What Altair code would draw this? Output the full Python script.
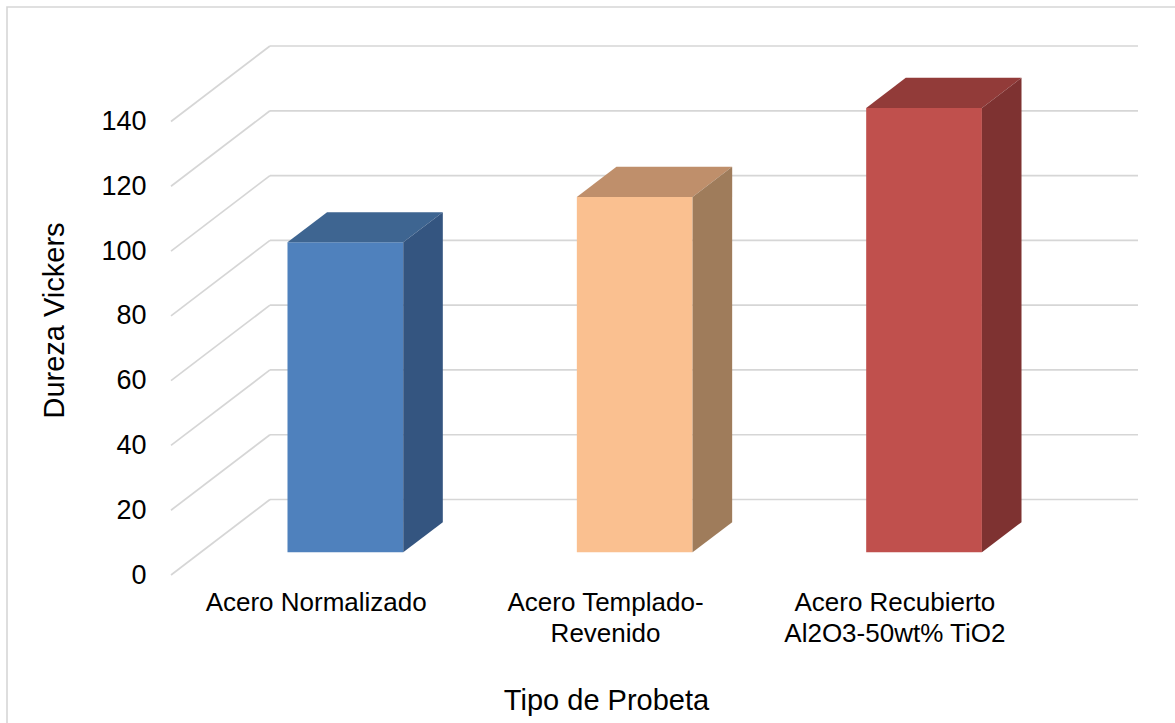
import altair as alt
import pandas as pd

# Vickers hardness per specimen type
categories = [
    "Acero Normalizado",
    "Acero Templado-\nRevenido",
    "Acero Recubierto\nAl2O3-50wt% TiO2",
]
hardness = [95.7, 109.7, 137.2]
y_ticks = [0, 20, 40, 60, 80, 100, 120, 140]

# face shades: front, top (darker), right side (darkest)
front_colors = ["#4f81bd", "#fac090", "#c0504d"]
top_colors = ["#3e6591", "#bf8f6b", "#923b39"]
side_colors = ["#345580", "#9f7c5b", "#7e3231"]

FONT = "Liberation Sans"
GRID = "#d6d6d6"

# oblique projection: how far the back wall is shifted, in axis units
DEPTH_X = 0.342          # along the category axis
DEPTH_Y = 23.3           # along the hardness axis
BAR_W = 0.4              # bar width as a fraction of a category slot
Z0, Z1 = 0.3, 0.7        # bar depth span (0 = front, 1 = back wall)
N = len(categories)
X_MAX = N + DEPTH_X
Y_MAX = y_ticks[-1] + DEPTH_Y

# gridlines: back wall + receding lines on the side wall
grid_rows = []
for v in y_ticks:
    grid_rows.append(dict(x=DEPTH_X, x2=N + DEPTH_X, y=v + DEPTH_Y, y2=v + DEPTH_Y))
    grid_rows.append(dict(x=0.0, x2=DEPTH_X, y=v, y2=v + DEPTH_Y))
grid = pd.DataFrame(grid_rows)

# bar faces
dx = (Z1 - Z0) * DEPTH_X
dy = (Z1 - Z0) * DEPTH_Y
front_rows, top_rows, side_rows = [], [], []
for i, (name, v) in enumerate(zip(categories, hardness)):
    x0 = i + (1 - BAR_W) / 2 + Z0 * DEPTH_X
    x1 = x0 + BAR_W
    b = Z0 * DEPTH_Y
    t = v + Z0 * DEPTH_Y
    front_rows.append(dict(bar=name, x=x0, x2=x1, y=b, y2=t, fill=front_colors[i]))
    for xx, lo, hi in [(x0, t, t), (x0 + dx, t, t + dy), (x1, t, t + dy), (x1 + dx, t + dy, t + dy)]:
        top_rows.append(dict(bar=name, x=xx, y=lo, y2=hi, fill=top_colors[i]))
    for xx, lo, hi in [(x1, b, t), (x1 + dx, b + dy, t + dy)]:
        side_rows.append(dict(bar=name, x=xx, y=lo, y2=hi, fill=side_colors[i]))
front = pd.DataFrame(front_rows)
top = pd.DataFrame(top_rows)
side = pd.DataFrame(side_rows)

xscale = alt.Scale(domain=[0, X_MAX], nice=False, zero=False)
yscale = alt.Scale(domain=[0, Y_MAX], nice=False, zero=False)

labels_js = "[" + ",".join("'" + c.replace("\n", "|") + "'" for c in categories) + "]"

x_axis = alt.Axis(
    values=[i + 0.5 for i in range(N)],
    labelExpr=f"split({labels_js}[floor(datum.value)], '|')",
    domain=False, ticks=False, grid=False,
    labelFont=FONT, labelFontSize=26, labelColor="#000000", labelLimit=0,
    labelPadding=14, labelLineHeight=31, labelBaseline="top",
    title="Tipo de Probeta", titleFont=FONT, titleFontSize=29,
    titleFontWeight="normal", titleColor="#000000",
    titleX=435, titleY=134, titleBaseline="alphabetic", titleAnchor="middle",
    titleAlign="center",
)
y_axis = alt.Axis(
    values=y_ticks, format="d",
    domain=False, ticks=False, grid=False,
    labelFont=FONT, labelFontSize=27, labelColor="#000000", labelPadding=25,
    title="Dureza Vickers", titleFont=FONT, titleFontSize=29,
    titleFontWeight="normal", titleColor="#000000",
    titleAngle=270, titleX=-117, titleY=274, titleBaseline="middle", titleAlign="center",
)


def X(field):
    return alt.X(field, scale=xscale, axis=x_axis)


def Y(field):
    return alt.Y(field, scale=yscale, axis=y_axis)


grid_layer = alt.Chart(grid).mark_rule(color=GRID, strokeWidth=1.7).encode(
    x=X("x:Q"), x2="x2:Q", y=Y("y:Q"), y2="y2:Q",
)

front_layer = alt.Chart(front).mark_rect().encode(
    x=X("x:Q"), x2="x2:Q", y=Y("y:Q"), y2="y2:Q",
    color=alt.Color("fill:N", scale=None),
)

top_layer = alt.Chart(top).mark_area(interpolate="linear").encode(
    x=X("x:Q"), y=Y("y:Q"), y2="y2:Q",
    detail="bar:N",
    color=alt.Color("fill:N", scale=None),
)

side_layer = alt.Chart(side).mark_area(interpolate="linear").encode(
    x=X("x:Q"), y=Y("y:Q"), y2="y2:Q",
    detail="bar:N",
    color=alt.Color("fill:N", scale=None),
)

# light outline of the chart area
frame = alt.Chart(pd.DataFrame({"k": [0]})).mark_rect(
    fill="transparent", stroke=GRID, strokeWidth=1.6
).encode(
    x=alt.value(-164), x2=alt.value(1020),
    y=alt.value(-39), y2=alt.value(700),
)

chart = alt.layer(grid_layer, front_layer, top_layer, side_layer, frame).properties(
    width=967, height=529,
    autosize=alt.AutoSizeParams(type="none"),
    padding={"left": 171, "top": 46, "right": 37, "bottom": 148},
    background="white",
).configure_view(stroke=None)

chart.save("out.html", embed_options={"renderer": "svg", "actions": False})
